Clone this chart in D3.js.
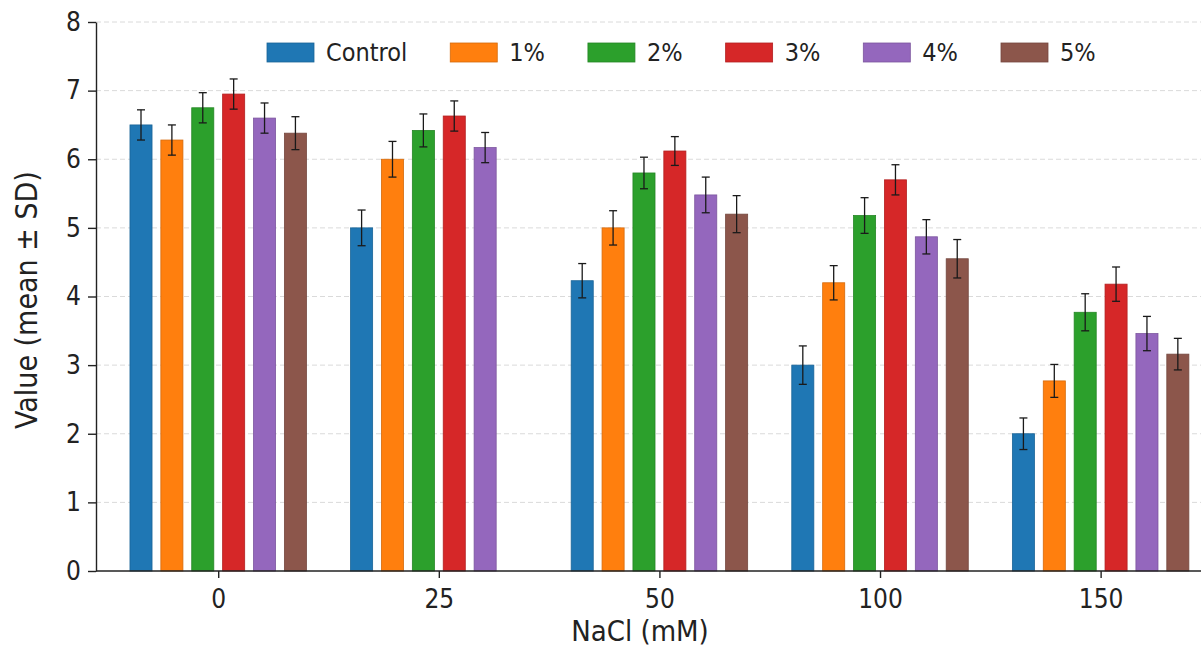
<!DOCTYPE html>
<html>
<head>
<meta charset="utf-8">
<script src="https://cdn.jsdelivr.net/npm/d3@7/dist/d3.min.js"></script>
<style>
  html, body { margin: 0; padding: 0; background: #ffffff; }
  svg { display: block; }
  text { font-family: "DejaVu Sans Condensed", "DejaVu Sans", sans-serif; font-stretch: condensed; fill: #222; }
</style>
</head>
<body>
<svg id="chart" width="1201" height="650"></svg>
<script>
// ---- data ----
const categories = ["0", "25", "50", "100", "150"];
const seriesNames = ["Control", "1%", "2%", "3%", "4%", "5%"];
const control = [6.50, 5.00, 4.23, 3.00, 2.00];
const pct1    = [6.28, 6.00, 5.00, 4.20, 2.77];
const pct2    = [6.75, 6.42, 5.80, 5.18, 3.77];
const pct3    = [6.95, 6.63, 6.12, 5.70, 4.18];
const pct4    = [6.60, 6.17, 5.48, 4.87, 3.46];
const pct5    = [6.38, null, 5.20, 4.55, 3.16];
const sdControl = [0.22, 0.26, 0.25, 0.28, 0.23];
const sd1       = [0.22, 0.26, 0.25, 0.25, 0.24];
const sd2       = [0.22, 0.24, 0.23, 0.26, 0.27];
const sd3       = [0.22, 0.22, 0.21, 0.22, 0.25];
const sd4       = [0.22, 0.22, 0.26, 0.25, 0.25];
const sd5       = [0.24, null, 0.27, 0.28, 0.23];
const yTicks = [0, 1, 2, 3, 4, 5, 6, 7, 8];
const colors = ["#1f77b4", "#ff7f0e", "#2ca02c", "#d62728", "#9467bd", "#8c564b"];

const seriesValues = [control, pct1, pct2, pct3, pct4, pct5];
const seriesSD = [sdControl, sd1, sd2, sd3, sd4, sd5];

// ---- layout ----
const svg = d3.select("#chart");
const mLeft = 96, mRight = 1201, mTop = 22, mBottom = 571;
const slot = 0.14, barW = 0.10;

const x = d3.scaleLinear().domain([-0.554, 4.455]).range([mLeft, mRight]);
const y = d3.scaleLinear().domain([0, 8]).range([mBottom, mTop]);

// grid
svg.append("g").selectAll("line").data(yTicks.filter(t => t > 0)).join("line")
  .attr("x1", mLeft).attr("x2", mRight)
  .attr("y1", d => y(d)).attr("y2", d => y(d))
  .attr("stroke", "#dadada").attr("stroke-width", 1).attr("stroke-dasharray", "5,3");

// bars
const barsG = svg.append("g");
seriesValues.forEach((vals, s) => {
  const offset = (s - 2.5) * slot;
  const data = vals.map((v, i) => ({ i, v, sd: seriesSD[s][i] })).filter(d => d.v != null);
  barsG.append("g").selectAll("rect").data(data).join("rect")
    .attr("x", d => x(d.i + offset - barW / 2))
    .attr("width", d => x(d.i + offset + barW / 2) - x(d.i + offset - barW / 2))
    .attr("y", d => y(d.v))
    .attr("height", d => y(0) - y(d.v))
    .attr("fill", colors[s])
    .attr("stroke", d3.color(colors[s]).darker(0.5))
    .attr("stroke-width", 0.8);
  const eb = barsG.append("g").attr("stroke", "#1a1a1a").attr("stroke-width", 1.3);
  eb.selectAll("line.v").data(data).join("line").attr("class", "v")
    .attr("x1", d => x(d.i + offset)).attr("x2", d => x(d.i + offset))
    .attr("y1", d => y(d.v - d.sd)).attr("y2", d => y(d.v + d.sd));
  eb.selectAll("line.t").data(data).join("line").attr("class", "t")
    .attr("x1", d => x(d.i + offset) - 4).attr("x2", d => x(d.i + offset) + 4)
    .attr("y1", d => y(d.v + d.sd)).attr("y2", d => y(d.v + d.sd));
  eb.selectAll("line.b").data(data).join("line").attr("class", "b")
    .attr("x1", d => x(d.i + offset) - 4).attr("x2", d => x(d.i + offset) + 4)
    .attr("y1", d => y(d.v - d.sd)).attr("y2", d => y(d.v - d.sd));
});

// axes
const yAxis = svg.append("g").attr("transform", `translate(${mLeft},0)`)
  .call(d3.axisLeft(y).tickValues(yTicks).tickFormat(d3.format("d")).tickSize(8).tickPadding(7).tickSizeOuter(0));
const xAxis = svg.append("g").attr("transform", `translate(0,${mBottom})`)
  .call(d3.axisBottom(x).tickValues(d3.range(categories.length)).tickFormat(i => categories[i]).tickSize(7).tickPadding(12).tickSizeOuter(0));
[yAxis, xAxis].forEach(a => {
  a.select(".domain").attr("stroke", "#222").attr("stroke-width", 1.4);
  a.selectAll(".tick line").attr("stroke", "#222").attr("stroke-width", 1.4);
  a.selectAll(".tick text").attr("font-size", 26).attr("fill", "#222")
    .style("font-family", '"DejaVu Sans Condensed", "DejaVu Sans", sans-serif');
});
xAxis.select(".domain").attr("d", `M${mLeft},0H${mRight}`);

// axis labels
svg.append("text").attr("x", 640).attr("y", 641).attr("text-anchor", "middle")
  .attr("font-size", 29).text("NaCl (mM)");
svg.append("text").attr("transform", "translate(37,300) rotate(-90)").attr("text-anchor", "middle")
  .attr("font-size", 30).text("Value (mean ± SD)");

// legend
const legend = svg.append("g");
let lx = 267;
seriesNames.forEach((name, s) => {
  legend.append("rect").attr("x", lx).attr("y", 43).attr("width", 47).attr("height", 19)
    .attr("fill", colors[s]).attr("stroke", d3.color(colors[s]).darker(0.5)).attr("stroke-width", 0.8);
  const t = legend.append("text").attr("x", lx + 59).attr("y", 52.5)
    .attr("dominant-baseline", "central").attr("font-size", 25).text(name);
  const w = t.node().getComputedTextLength();
  lx = lx + 59 + w + 43;
});
</script>
</body>
</html>
